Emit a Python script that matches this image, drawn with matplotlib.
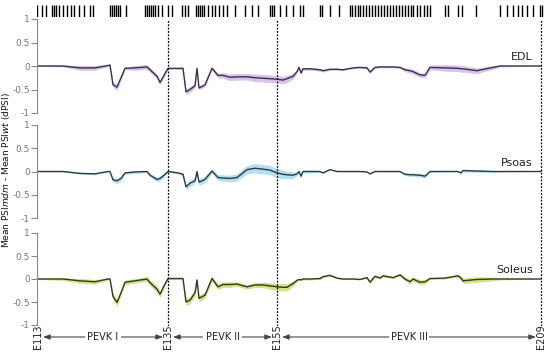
import numpy as np
import matplotlib
matplotlib.use("Agg")
import matplotlib.pyplot as plt

# exon positions shown in the rug (arbitrary gene coordinate)
exon_pos = [37, 42, 46, 52, 54, 56, 59, 63, 67, 71, 74, 79, 84, 90, 93,
            110, 112, 114, 116, 118, 120, 126, 145, 147, 149, 151, 153, 155, 158,
            162, 168, 172, 182, 185, 188, 196, 198, 200, 202, 204, 208, 212, 215,
            219, 223, 227, 235, 245, 252, 258, 270, 272, 274, 280,
            286, 293, 300, 303, 320, 322, 330, 339, 350, 352, 355, 358, 360, 363,
            366, 369, 372, 375, 378, 381, 384, 387, 390, 393, 396, 399, 402, 405, 408,
            411, 413, 417, 420, 424, 427, 430, 445, 448, 458, 462, 476, 500, 507,
            513, 518, 522, 527, 533, 540, 542]

# region boundaries
bound_pos = [38, 168, 277, 541]
bound_labels = ["E113", "E135", "E155", "E209"]
region_labels = ["PEVK I", "PEVK II", "PEVK III"]

pos = [38, 63, 80, 95, 108, 110, 113, 117, 121, 125, 135, 147, 150, 157, 160, 164,
       168, 178, 183, 186, 190, 195, 197, 199, 205, 212, 218, 223, 230, 237, 247,
       255, 263, 270, 277, 283, 287, 293, 297, 299, 301, 303, 310, 320, 323, 330,
       337, 343, 353, 360, 367, 370, 375, 380, 383, 393, 400, 405, 410, 413, 420,
       425, 430, 445, 458, 461, 463, 477, 493, 500, 541]

edl = [0, 0, -0.04, -0.04, 0.01, 0.02, -0.4, -0.45, -0.25, -0.05, -0.04, -0.02,
       -0.08, -0.22, -0.35, -0.2, -0.05, -0.05, -0.05, -0.55, -0.5, -0.42, -0.05,
       -0.47, -0.4, -0.05, -0.2, -0.2, -0.24, -0.23, -0.23, -0.25, -0.26, -0.27,
       -0.28, -0.3, -0.27, -0.22, -0.12, -0.03, -0.15, -0.06, -0.06, -0.08, -0.1,
       -0.07, -0.07, -0.08, -0.04, -0.03, -0.04, -0.13, -0.03, -0.02, -0.02, -0.02,
       -0.03, -0.08, -0.1, -0.12, -0.19, -0.2, -0.03, -0.04, -0.05, -0.06, -0.06,
       -0.1, -0.03, 0.0, 0.0]
edl_err = [0.01, 0.02, 0.05, 0.05, 0.02, 0.02, 0.06, 0.07, 0.05, 0.03, 0.05, 0.05,
           0.05, 0.05, 0.05, 0.04, 0.02, 0.02, 0.03, 0.06, 0.06, 0.05, 0.02, 0.04,
           0.04, 0.04, 0.05, 0.06, 0.07, 0.07, 0.07, 0.08, 0.08, 0.08, 0.08, 0.08,
           0.08, 0.06, 0.03, 0.02, 0.03, 0.03, 0.03, 0.03, 0.03, 0.02, 0.02, 0.02,
           0.02, 0.02, 0.02, 0.03, 0.02, 0.02, 0.02, 0.02, 0.02, 0.04, 0.05, 0.05,
           0.05, 0.05, 0.05, 0.07, 0.07, 0.07, 0.07, 0.06, 0.04, 0.02, 0.0]

psoas = [0, 0, -0.04, -0.05, 0.0, 0.0, -0.18, -0.2, -0.15, -0.03, -0.01, 0.0,
         -0.08, -0.17, -0.15, -0.08, 0.0, -0.03, -0.06, -0.33, -0.25, -0.2, 0.0,
         -0.23, -0.17, 0.01, -0.13, -0.14, -0.15, -0.13, 0.04, 0.07, 0.05, 0.03,
         -0.03, -0.06, -0.07, -0.08, -0.05, 0.0, -0.1, 0.0, 0.0, 0.0, -0.03, 0.04,
         0.0, 0.0, 0.0, 0.0, -0.01, -0.05, 0.0, 0.0, 0.0, 0.0, 0.0, -0.06, -0.07,
         -0.07, -0.08, -0.1, 0.0, 0.0, 0.0, -0.03, 0.02, 0.01, 0.0, 0.0, 0.0]
psoas_err = [0.01, 0.01, 0.02, 0.02, 0.01, 0.01, 0.05, 0.06, 0.05, 0.03, 0.03, 0.02,
             0.04, 0.05, 0.05, 0.04, 0.02, 0.02, 0.03, 0.06, 0.07, 0.06, 0.03, 0.07,
             0.07, 0.05, 0.06, 0.07, 0.07, 0.08, 0.09, 0.1, 0.1, 0.1, 0.1, 0.09,
             0.08, 0.07, 0.04, 0.02, 0.03, 0.03, 0.03, 0.02, 0.01, 0.01, 0.01, 0.01,
             0.01, 0.01, 0.01, 0.01, 0.01, 0.01, 0.01, 0.01, 0.01, 0.03, 0.04, 0.04,
             0.04, 0.04, 0.02, 0.01, 0.01, 0.02, 0.03, 0.03, 0.02, 0.01, 0.0]

soleus = [0, 0, -0.04, -0.06, 0.0, 0.0, -0.38, -0.51, -0.3, -0.07, -0.04, 0.0,
          -0.08, -0.22, -0.33, -0.15, 0.01, 0.01, 0.01, -0.5, -0.46, -0.3, -0.02,
          -0.42, -0.35, 0.01, -0.17, -0.12, -0.12, -0.11, -0.17, -0.13, -0.13,
          -0.15, -0.17, -0.18, -0.18, -0.1, -0.03, -0.01, -0.02, 0.0, 0.0, 0.01,
          0.05, 0.08, 0.02, 0.0, 0.0, -0.01, 0.03, -0.07, 0.06, 0.02, 0.07, 0.03,
          0.09, 0.0, -0.06, 0.0, -0.07, -0.06, 0.01, 0.02, 0.07, 0.02, -0.04,
          -0.01, 0.0, 0.0, 0.0]
soleus_err = [0.01, 0.03, 0.05, 0.05, 0.02, 0.02, 0.07, 0.08, 0.06, 0.05, 0.05, 0.05,
              0.06, 0.07, 0.07, 0.05, 0.02, 0.02, 0.03, 0.08, 0.08, 0.07, 0.03, 0.07,
              0.07, 0.06, 0.06, 0.06, 0.06, 0.05, 0.05, 0.05, 0.06, 0.07, 0.08, 0.08,
              0.08, 0.06, 0.03, 0.02, 0.02, 0.02, 0.02, 0.02, 0.02, 0.02, 0.02, 0.01,
              0.01, 0.01, 0.02, 0.03, 0.03, 0.02, 0.03, 0.02, 0.03, 0.04, 0.05, 0.05,
              0.05, 0.05, 0.02, 0.02, 0.03, 0.05, 0.06, 0.06, 0.04, 0.02, 0.0]

muscles = ["EDL", "Psoas", "Soleus"]
means = [edl, psoas, soleus]
errs = [edl_err, psoas_err, soleus_err]
fills = ["#cdb4ea", "#a3d9ef", "#c3dc6c"]
lines = ["#3b3144", "#2f3a40", "#2f3a20"]

W, H = 550, 354
fig = plt.figure(figsize=(5.5, 3.54), dpi=100)
XLIM = (37, 545)


def box(x0, y0, x1, y1):
    # pixel box -> figure fraction rect
    return [x0 / W, 1 - y1 / H, (x1 - x0) / W, (y1 - y0) / H]


# rug of exons
rax = fig.add_axes(box(37, 5, 545, 17))
rax.vlines(exon_pos, 0, 1, color="black", lw=1.0)
rax.set_xlim(*XLIM)
rax.set_ylim(0, 1)
rax.axis("off")

panels = [(19, 113), (125, 218), (233, 325)]
for (top, bot), name, m, e, fc, lc in zip(panels, muscles, means, errs, fills, lines):
    ax = fig.add_axes(box(37, top, 545, bot))
    m = np.array(m)
    e = np.array(e)
    ax.fill_between(pos, m - e, m + e, color=fc, alpha=0.8, lw=0)
    ax.plot(pos, m, color=lc, lw=1.0)
    ax.set_xlim(*XLIM)
    ax.set_ylim(-1, 1)
    ax.set_yticks([1, 0.5, 0, -0.5, -1])
    ax.set_yticklabels(["1", "0.5", "0", "-0.5", "-1"])
    ax.set_xticks([])
    for s in ["top", "right", "bottom"]:
        ax.spines[s].set_visible(False)
    ax.spines["left"].set_color("#888888")
    ax.spines["left"].set_linewidth(0.8)
    ax.tick_params(axis="y", length=4, width=0.8, color="#888888",
                   labelcolor="#777777", labelsize=6.5, pad=1)
    ax.patch.set_alpha(0)
    ax.text(533, 0.08, name, ha="right", va="bottom", fontsize=8, color="#222222")

# dotted region boundaries through all panels
oax = fig.add_axes(box(37, 20, 545, 326))
oax.set_xlim(*XLIM)
oax.set_ylim(0, 1)
oax.axis("off")
oax.vlines(bound_pos[1:], 0, 1, colors="black", linestyles=(0, (1.5, 1.2)), lw=0.9)

# bottom annotation row
bax = fig.add_axes(box(30, 320, 550, 354))
bax.set_xlim(30, 550)
bax.set_ylim(0, 1)
bax.axis("off")
for p, lab in zip(bound_pos, bound_labels):
    bax.text(p, 0.5, lab, rotation=90, ha="center", va="center", fontsize=7,
             color="#222222")
for a, b, lab in zip(bound_pos[:-1], bound_pos[1:], region_labels):
    bax.annotate("", xy=(a + 5, 0.5), xytext=(b - 5, 0.5),
                 arrowprops=dict(arrowstyle="<|-|>,head_length=0.4,head_width=0.15",
                                 color="#444444", lw=0.8, shrinkA=0, shrinkB=0))
    bax.text((a + b) / 2, 0.5, lab, ha="center", va="center", fontsize=7,
             color="#222222",
             bbox=dict(facecolor="white", edgecolor="none", pad=1.5))

fig.text(0.011, 0.52, r"Mean PSI$\mathit{mdm}$ - Mean PSI$\mathit{wt}$ (dPSI)",
         rotation=90, ha="center", va="center", fontsize=6.5, color="#111111")

fig.savefig("out.png", dpi=100)
